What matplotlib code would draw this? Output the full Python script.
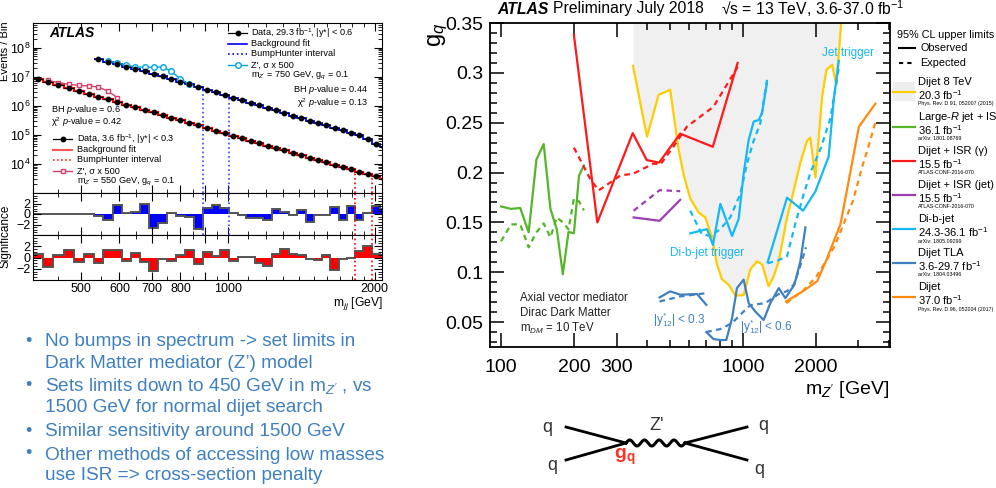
import numpy as np
import matplotlib
matplotlib.use('Agg')
import matplotlib.pyplot as plt
from matplotlib.lines import Line2D
from matplotlib.patches import Rectangle
from matplotlib.ticker import FixedLocator, NullFormatter, MultipleLocator

plt.rcParams['font.family'] = ['Liberation Sans', 'DejaVu Sans']
plt.rcParams['mathtext.fontset'] = 'custom'
plt.rcParams['mathtext.rm'] = 'Liberation Sans'
plt.rcParams['mathtext.it'] = 'Liberation Sans:italic'
plt.rcParams['mathtext.bf'] = 'Liberation Sans:bold'

# ---------------- left plot: dijet TLA spectrum ----------------
bin_edges = [399, 418, 439, 461, 483, 507, 531, 555, 581, 607, 633, 661, 690, 720, 751,
             783, 817, 852, 889, 927, 966, 1006, 1048, 1091, 1136, 1183, 1231, 1281, 1333,
             1387, 1443, 1501, 1561, 1623, 1688, 1755, 1825, 1897, 1972, 2049, 2130]

# 3.6 fb-1, |y*| < 0.3 (all bins)
events_low = [8.5e6, 6.8e6, 5.2e6, 4.2e6, 3.2e6, 2.6e6, 2.0e6, 1.66e6, 1.35e6, 1.10e6,
              8.9e5, 7.2e5, 5.9e5, 4.8e5, 3.9e5, 3.2e5, 2.6e5, 2.1e5, 1.70e5, 1.38e5,
              1.12e5, 9.1e4, 7.6e4, 6.3e4, 5.1e4, 4.2e4, 3.5e4, 2.9e4, 2.3e4, 1.95e4,
              1.62e4, 1.35e4, 1.12e4, 9.3e3, 7.8e3, 6.5e3, 5.4e3, 4.5e3, 3.7e3, 3.0e3]
# 29.3 fb-1, |y*| < 0.6 (from bin 6 on)
first_bin_high = 6
events_high = [3.9e7, 3.2e7, 2.7e7, 2.2e7, 1.82e7, 1.51e7, 1.26e7, 1.02e7, 8.3e6, 6.8e6,
               5.5e6, 4.4e6, 3.5e6, 2.9e6, 2.3e6, 1.9e6, 1.55e6, 1.26e6, 1.02e6, 8.3e5,
               6.9e5, 5.6e5, 4.6e5, 3.8e5, 3.1e5, 2.6e5, 2.1e5, 1.74e5, 1.45e5, 1.20e5,
               9.8e4, 7.2e4, 4.9e4, 3.9e4]

zp750_first = 7
zp750 = [3.47e7, 2.95e7, 2.51e7, 2.19e7, 2.09e7, 2.14e7, 2.14e7, 1.51e7, 8.3e6, 5.5e6]
zp550_first = 1
zp550 = [7.4e6, 6.2e6, 5.5e6, 5.0e6, 4.8e6, 4.4e6, 3.2e6, 1.9e6]

sig_high = [0, 0, 0, 0, 0, 0,
            -0.4, -1.1, 1.8, 0.25, 0.35, 2.0, -2.7, -1.7, 0.1, -0.4, -0.55, -2.8, 1.1, 1.75,
            1.2, 0.2, -0.2, -0.85, -0.7, -1.1, 1.0, 0.45, -0.1, 0.8, -1.55, -0.25, -0.2, 1.3,
            -1.2, 1.6, -1.1, 0.2, 1.6, 1.0]
sig_low = [0.6, -1.7, 0.4, 1.4, -0.8, 0.6, -0.9, 1.4, 1.3, -0.7, 0.85, -0.75, -2.35, -0.2,
           -0.6, 0.4, 1.3, -1.15, 1.0, 0.35, 1.25, -0.55, 0.1, 0.15, -1.0, -1.45, 0.6, 1.55,
           0.55, 0.4, -0.25, -0.5, 0.5, -2.25, -0.25, -0.1, 1.2, 2.1, 0.55, 0.5]

bh_high = (889, 1006)
bh_low = (1825, 1972)

# ---------------- right plot: g_q limits ----------------
dijet8_m = [351, 401, 448, 500, 540, 568, 605, 655, 698, 745, 780, 818, 872, 930, 1006, 1072,
            1143, 1198, 1276, 1339, 1405, 1520, 1594, 1726, 1840, 1897, 1991, 2122, 2211,
            2335, 2432, 2544]
dijet8_obs = [0.307, 0.236, 0.278, 0.283, 0.225, 0.198, 0.174, 0.160, 0.155, 0.135, 0.108,
              0.093, 0.0875, 0.0765, 0.077, 0.103, 0.111, 0.108, 0.086, 0.096, 0.111, 0.155,
              0.175, 0.21, 0.232, 0.235, 0.195, 0.276, 0.303, 0.308, 0.288, 0.35]

largeR_m = [100, 110, 120, 130, 140, 150, 160, 170, 180, 190, 200, 210, 220]
largeR_obs = [0.166, 0.1635, 0.1645, 0.140, 0.213, 0.2285, 0.1635, 0.143, 0.098, 0.1405,
              0.139, 0.197, 0.207]
largeR_exp = [0.131, 0.148, 0.148, 0.125, 0.140, 0.149, 0.135, 0.155, 0.150, 0.143, 0.174,
              0.171, 0.162]

isrg_m_obs = [200, 250, 350, 400, 450, 550, 750, 950]
isrg_obs = [0.338, 0.150, 0.2395, 0.2125, 0.210, 0.239, 0.2258, 0.310]
isrg_m_exp = [200, 233, 253, 311, 353, 427, 455, 516, 586, 755, 950]
isrg_exp = [0.225, 0.194, 0.182, 0.197, 0.199, 0.209, 0.208, 0.226, 0.246, 0.266, 0.306]

isrj_m = [353, 452, 550]
isrj_obs = [0.155, 0.1516, 0.1726]
isrj_exp = [0.1617, 0.1823, 0.1813]

dibjet1_m_obs = [605, 710, 751, 806, 901, 959, 1006, 1055, 1107, 1161, 1198, 1256]
dibjet1_obs = [0.139, 0.1432, 0.1273, 0.1685, 0.1364, 0.1533, 0.199, 0.2326, 0.2511,
               0.2528, 0.2596, 0.290]
dibjet1_m_exp = [605, 676, 733, 806, 885, 975, 1039, 1100, 1179, 1256]
dibjet1_exp = [0.1617, 0.138, 0.1364, 0.1432, 0.155, 0.1787, 0.209, 0.230, 0.2495, 0.293]
dibjet2_m_obs = [1264, 1520, 1770, 1991, 2259, 2371, 2487]
dibjet2_obs = [0.110, 0.1748, 0.1617, 0.181, 0.216, 0.273, 0.312]
dibjet2_m_exp = [1264, 1400, 1520, 1650, 1780, 1900, 2100, 2300, 2487]
dibjet2_exp = [0.109, 0.112, 0.116, 0.150, 0.178, 0.200, 0.225, 0.255, 0.305]

tla03_m_obs = [452, 500, 550, 646, 705]
tla03_obs = [0.0747, 0.0808, 0.0775, 0.0781, 0.0673]
tla03_m_exp = [452, 550, 705]
tla03_exp = [0.0707, 0.0757, 0.079]
tla06_m_obs = [705, 755, 806, 853, 901, 944, 1006, 1055, 1125, 1217, 1297, 1405, 1496, 1631,
               1726, 1811]
tla06_obs = [0.040, 0.033, 0.032, 0.032, 0.054, 0.0841, 0.0926, 0.069, 0.0605, 0.0521,
             0.069, 0.0841, 0.074, 0.0875, 0.111, 0.145]
tla06_m_exp = [705, 806, 901, 1000, 1072, 1236, 1400, 1520, 1620, 1698, 1820]
tla06_exp = [0.040, 0.043, 0.049, 0.060, 0.067, 0.069, 0.078, 0.081, 0.0875, 0.101, 0.125]

dijet_m_obs = [1506, 1783, 2024, 2200, 2527, 2800, 3012, 3524]
dijet_obs = [0.0707, 0.0815, 0.0909, 0.111, 0.148, 0.205, 0.246, 0.269]
dijet_m_exp = [1510, 1780, 2000, 2200, 2400, 2600, 2850, 3100, 3300, 3520]
dijet_exp = [0.069, 0.082, 0.095, 0.111, 0.127, 0.148, 0.172, 0.205, 0.226, 0.250]

bullets = [
    ["No bumps in spectrum -> set limits in", "Dark Matter mediator (Z\u2019) model"],
    ["Sets limits down to 450 GeV in m$_{Z'}$ , vs", "1500 GeV for normal dijet search"],
    ["Similar sensitivity around 1500 GeV"],
    ["Other methods of accessing low masses", "use ISR => cross-section penalty"],
]

W, H = 996, 488
fig = plt.figure(figsize=(W / 100, H / 100), dpi=100)


def fx(x):
    return x / W


def fy(y):
    return 1 - y / H


def box(x0, y0, x1, y1):
    return [fx(x0), fy(y1), (x1 - x0) / W, (y1 - y0) / H]


def ftext(x, y, s, **kw):
    kw.setdefault('va', 'center')
    return fig.text(fx(x), fy(y), s, **kw)


def fline(xs, ys, **kw):
    fig.add_artist(Line2D([fx(v) for v in xs], [fy(v) for v in ys],
                          transform=fig.transFigure, **kw))


edges = np.array(bin_edges, dtype=float)
centers = np.sqrt(edges[:-1] * edges[1:])
xerr = np.vstack([centers - edges[:-1], edges[1:] - centers])

ax1 = fig.add_axes(box(33, 23, 382, 193))
ax2 = fig.add_axes(box(33, 193, 382, 235))
ax3 = fig.add_axes(box(33, 235, 382, 280))

RED, BLUE = '#ff0000', '#0000ff'
hi = slice(first_bin_high, first_bin_high + len(events_high))

ax1.stairs(events_low, edges, color=RED, lw=1.6, baseline=None)
ax1.stairs(events_high, edges[first_bin_high:], color=BLUE, lw=1.3, baseline=None)
ax1.errorbar(centers, events_low, xerr=xerr, fmt='o', color='black', ms=3.2, lw=0.8)
ax1.errorbar(centers[hi], events_high, xerr=xerr[:, hi], fmt='o', color='black', ms=3.2, lw=0.8)
ax1.plot(centers[zp750_first:zp750_first + len(zp750)], zp750, '-o', color='#00a6e0',
         mfc='white', ms=4, lw=1, mew=1)
ax1.plot(centers[zp550_first:zp550_first + len(zp550)], zp550, '-s', color='#d0406a',
         mfc='white', ms=3.5, lw=1, mew=1)

for e in bh_high:
    i = bin_edges.index(e)
    ax1.vlines(e, 1e3, events_high[i - first_bin_high], colors='#3344ff', linestyles=':', lw=1.2)
    ax2.axvline(e, color='#3344ff', ls=':', lw=1.2)
for e in bh_low:
    i = bin_edges.index(e)
    ax1.vlines(e, 1e3, events_low[i], colors=RED, linestyles=':', lw=1.2)
    ax2.axvline(e, color=RED, ls=':', lw=1.2)
    ax3.axvline(e, color=RED, ls=':', lw=1.2)

ax2.stairs(sig_high, edges, baseline=0, fill=True, color=BLUE)
ax2.stairs(sig_high, edges, baseline=None, color='#555555', lw=1.4)
ax3.stairs(sig_low, edges, baseline=0, fill=True, color=RED)
ax3.stairs(sig_low, edges, baseline=None, color='#555555', lw=1.4)

ax1.set_yscale('log')
ax1.set_ylim(1e3, 7e8)
ax1.yaxis.set_major_locator(FixedLocator([1e4, 1e5, 1e6, 1e7, 1e8]))
for a in (ax1, ax2, ax3):
    a.set_xscale('log')
    a.set_xlim(399, 2070)
    a.tick_params(which='both', direction='in', top=True, right=True, labelsize=9, pad=2)
    a.tick_params(which='major', length=6)
    a.tick_params(which='minor', length=3)
    a.xaxis.set_major_locator(FixedLocator([500, 600, 700, 800, 900, 1000, 2000]))
    a.xaxis.set_minor_locator(FixedLocator([450, 550, 650, 750, 850, 950] +
                                           list(range(1100, 2000, 100))))
    a.xaxis.set_minor_formatter(NullFormatter())
for a in (ax1, ax2):
    a.tick_params(labelbottom=False)
ax3.set_xticklabels(['500', '600', '700', '800', '', '1000', '2000'])
for a in (ax2, ax3):
    a.set_ylim(-4, 4)
    a.set_yticks([-2, 0, 2])
    a.set_yticklabels(['\u22122', '0', '2'])
    a.yaxis.set_minor_locator(MultipleLocator(0.5))

ftext(5, 21, 'Events / Bin', rotation=90, fontsize=8, ha='center', va='top')
ftext(5, 236, 'Significance', rotation=90, fontsize=8.5, ha='center')
ftext(383, 303, 'm$_{jj}$ [GeV]', fontsize=8.7, ha='right')
ftext(49, 33, 'ATLAS', fontsize=10, fontweight='bold', fontstyle='italic')

fs_leg = 6.6
# upper legend (29.3 fb-1)
rows = [33, 43.5, 54, 65]
fline([228, 247], [rows[0]] * 2, color='black', lw=0.9)
fline([237.5], [rows[0]], marker='o', color='black', ms=3.2)
fline([228, 247], [rows[1]] * 2, color=BLUE, lw=1.2)
fline([228, 247], [rows[2]] * 2, color=BLUE, lw=1.2, ls=':')
fline([228, 247], [rows[3]] * 2, color='#00a6e0', lw=1)
fline([237.5], [rows[3]], marker='o', color='#00a6e0', mfc='white', ms=4)
ftext(251, rows[0], 'Data, 29.3 fb$^{-1}$, |y*| < 0.6', fontsize=fs_leg)
ftext(251, rows[1], 'Background fit', fontsize=fs_leg)
ftext(251, rows[2], 'BumpHunter interval', fontsize=fs_leg)
ftext(251, rows[3], "Z', \u03c3 x 500", fontsize=fs_leg)
ftext(251, 76, "m$_{Z'}$ = 750 GeV, g$_{q}$ = 0.1", fontsize=fs_leg)
ftext(368, 90, 'BH $p$-value = 0.44', fontsize=fs_leg, ha='right')
ftext(368, 103, '\u03c7$^{2}$ $p$-value = 0.13', fontsize=fs_leg, ha='right')
# lower legend (3.6 fb-1)
ftext(51, 110, 'BH $p$-value = 0.6', fontsize=fs_leg)
ftext(51, 122, '\u03c7$^{2}$ $p$-value = 0.42', fontsize=fs_leg)
rows = [139, 150, 160, 171]
fline([53, 72], [rows[0]] * 2, color='black', lw=0.9)
fline([62.5], [rows[0]], marker='o', color='black', ms=3.2)
fline([53, 72], [rows[1]] * 2, color='#ff5555', lw=1.5)
fline([53, 72], [rows[2]] * 2, color=RED, lw=1.1, ls=':')
fline([53, 72], [rows[3]] * 2, color='#d0406a', lw=1)
fline([62.5], [rows[3]], marker='s', color='#d0406a', mfc='white', ms=3.5)
ftext(77, rows[0], 'Data, 3.6 fb$^{-1}$, |y*| < 0.3', fontsize=fs_leg)
ftext(77, rows[1], 'Background fit', fontsize=fs_leg)
ftext(77, rows[2], 'BumpHunter interval', fontsize=fs_leg)
ftext(77, rows[3], "Z', \u03c3 x 500", fontsize=fs_leg)
ftext(77, 182, "m$_{Z'}$ = 550 GeV, g$_{q}$ = 0.1", fontsize=fs_leg)

# ---------------- right plot ----------------
YEL, GRN, RD, PUR, CYN, SB, ORG = ('#ffcc00', '#55b52a', '#ff1a1a', '#9b3fae', '#16b8f3',
                                   '#3f80c2', '#ff8a10')
ax4 = fig.add_axes(box(490, 23, 890, 347))
ax4.set_xscale('log')
ax4.set_xlim(90, 4050)
ax4.set_ylim(0.025, 0.35)
ax4.fill_between(dijet8_m, dijet8_obs, 0.35, color='#f0f0f0', lw=0)
lw = 1.6
dash = (0, (2.5, 2))
ax4.plot(dijet8_m, dijet8_obs, color=YEL, lw=lw)
ax4.plot(largeR_m, largeR_obs, color=GRN, lw=lw)
ax4.plot(largeR_m, largeR_exp, color=GRN, lw=lw, ls=dash)
ax4.plot(isrg_m_obs, isrg_obs, color=RD, lw=lw)
ax4.plot(isrg_m_exp, isrg_exp, color=RD, lw=lw, ls=dash)
ax4.plot(isrj_m, isrj_obs, color=PUR, lw=lw)
ax4.plot(isrj_m, isrj_exp, color=PUR, lw=lw, ls=dash)
ax4.plot(dibjet1_m_obs, dibjet1_obs, color=CYN, lw=lw)
ax4.plot(dibjet1_m_exp, dibjet1_exp, color=CYN, lw=lw, ls=dash)
ax4.plot(dibjet2_m_obs, dibjet2_obs, color=CYN, lw=lw)
ax4.plot(dibjet2_m_exp, dibjet2_exp, color=CYN, lw=lw, ls=dash)
ax4.plot(tla03_m_obs, tla03_obs, color=SB, lw=lw)
ax4.plot(tla03_m_exp, tla03_exp, color=SB, lw=lw, ls=dash)
ax4.plot(tla06_m_obs, tla06_obs, color=SB, lw=lw)
ax4.plot(tla06_m_exp, tla06_exp, color=SB, lw=lw, ls=dash)
ax4.plot(dijet_m_obs, dijet_obs, color=ORG, lw=lw)
ax4.plot(dijet_m_exp, dijet_exp, color=ORG, lw=lw, ls=dash)

ax4.xaxis.set_major_locator(FixedLocator([100, 200, 300, 1000, 2000]))
ax4.xaxis.set_minor_locator(FixedLocator([400, 500, 600, 700, 800, 900, 3000, 4000]))
ax4.set_xticklabels(['100', '200', '300', '1000', '2000'])
ax4.xaxis.set_minor_formatter(NullFormatter())
ax4.set_yticks([0.05, 0.1, 0.15, 0.2, 0.25, 0.3, 0.35])
ax4.set_yticklabels(['0.05', '0.1', '0.15', '0.2', '0.25', '0.3', '0.35'])
ax4.yaxis.set_minor_locator(MultipleLocator(0.01))
ax4.tick_params(which='both', direction='in', top=True, right=True, labelsize=14, width=1.1)
ax4.tick_params(which='major', length=10)
ax4.tick_params(which='minor', length=5)
ax4.tick_params(axis='x', pad=9)
ax4.tick_params(axis='y', pad=5)
for s in ax4.spines.values():
    s.set_linewidth(1.3)

ftext(822, 53, 'Jet trigger', color=CYN, fontsize=8.5)
ftext(670, 253, 'Di-b-jet trigger', color=CYN, fontsize=8.5)
ftext(653, 320, '|y$^{*}_{12}$| < 0.3', color=SB, fontsize=8.5)
ftext(740, 327, '|y$^{*}_{12}$| < 0.6', color=SB, fontsize=8.5)
for y, s in zip([298, 313, 328], ['Axial vector mediator', 'Dirac Dark Matter',
                                   'm$_{DM}$ = 10 TeV']):
    ftext(520, y, s, fontsize=8.3, color='#222222')

ftext(497, 9, 'ATLAS', fontsize=11.3, fontweight='bold', fontstyle='italic')
ftext(553, 9, 'Preliminary July 2018', fontsize=11.3)
ftext(721, 9, '\u221as = 13 TeV, 3.6-37.0 fb$^{-1}$', fontsize=11.3)
ftext(438, 35, 'g$_{q}$', rotation=90, fontsize=17, ha='center')
ftext(889, 389, "m$_{Z'}$ [GeV]", fontsize=14, ha='right')

# legend of the limit plot
ftext(897, 35, '95% CL upper limits', fontsize=7.8)
fline([899, 915], [48, 48], color='black', lw=1.5)
ftext(920, 48, 'Observed', fontsize=7.8)
fline([899, 915], [63, 63], color='black', lw=1.5, ls=(0, (2, 2)))
ftext(920, 63, 'Expected', fontsize=7.8)
fig.add_artist(Rectangle((fx(893), fy(101)), 22 / W, 19 / H, transform=fig.transFigure,
                         fc='#eeeeee', ec='none'))
entries = [
    (YEL, 82, 'Dijet 8 TeV', '20.3 fb$^{-1}$', 'Phys. Rev. D 91, 052007 (2015)'),
    (GRN, 117, 'Large-$R$ jet + ISR', '36.1 fb$^{-1}$', 'arXiv: 1801.08769'),
    (RD, 151, 'Dijet + ISR (\u03b3)', '15.5 fb$^{-1}$', 'ATLAS-CONF-2016-070'),
    (PUR, 185, 'Dijet + ISR (jet)', '15.5 fb$^{-1}$', 'ATLAS-CONF-2016-070'),
    (CYN, 219, 'Di-b-jet', '24.3-36.1 fb$^{-1}$', 'arXiv: 1805.09299'),
    (SB, 253, 'Dijet TLA', '3.6-29.7 fb$^{-1}$', 'arXiv: 1804.03496'),
    (ORG, 287, 'Dijet', '37.0 fb$^{-1}$', 'Phys. Rev. D 96, 052004 (2017)'),
]
for col, y, l1, l2, l3 in entries:
    fline([893, 915], [y + 10, y + 10], color=col, lw=1.6)
    ftext(918, y, l1, fontsize=8)
    ftext(918, y + 13, l2, fontsize=8)
    ftext(918, y + 22, l3, fontsize=3.8)

# ---------------- Feynman diagram ----------------
fline([566, 626], [427, 443], color='black', lw=2)
fline([566, 626], [460, 443], color='black', lw=2)
fline([685, 747], [443, 427], color='black', lw=2)
fline([685, 747], [443, 460], color='black', lw=2)
t = np.linspace(0, 1, 200)
fline(list(626 + 59 * t), list(443 - 3 * np.sin(2 * np.pi * 4 * t)), color='black', lw=2.2)
for x, y in [(547, 427), (552, 465), (763, 426), (759, 470)]:
    ftext(x, y, 'q', fontsize=13, color='#333333', ha='center')
ftext(657, 426, "Z'", fontsize=13, color='#333333', ha='center')
ftext(625, 457, 'g$_{\\mathbf{q}}$', fontsize=14, color='#ff3322', ha='center',
      fontweight='bold')

# ---------------- bullets ----------------
BUL = '#3f80c0'
ys = iter([342, 363, 386, 408, 432, 455, 476])
for item in bullets:
    first = True
    for line in item:
        y = next(ys)
        if first:
            ftext(28, y - 1, '\u2022', fontsize=13, color=BUL, ha='center')
            first = False
        ftext(45, y, line, fontsize=13.7, color=BUL)

fig.savefig('out.png', dpi=100)
